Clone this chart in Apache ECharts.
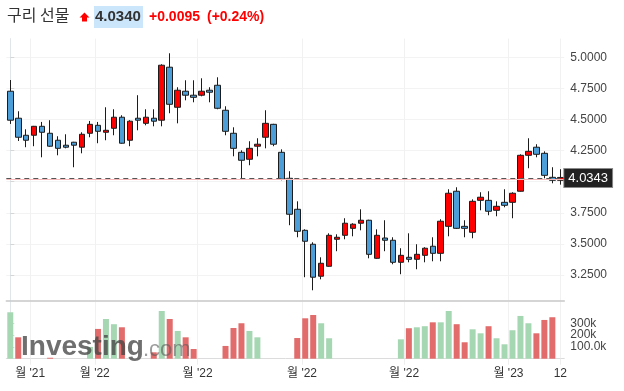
<!DOCTYPE html>
<html>
<head>
<meta charset="utf-8">
<script src="https://cdn.jsdelivr.net/npm/echarts@6/dist/echarts.min.js"></script>
<style>
  html, body { margin: 0; padding: 0; background: #fff; }
  #main { width: 624px; height: 391px; }
</style>
</head>
<body>
<div id="main"></div>
<script>
// weekly copper futures candles
const opens  = [4.727,4.510,4.373,4.373,4.445,4.389,4.333,4.293,4.317,4.277,4.389,4.453,4.397,4.429,4.518,4.333,4.510,4.469,4.510,4.494,
                4.920,4.598,4.727,4.695,4.695,4.735,4.775,4.574,4.389,4.236,4.180,4.285,4.357,4.461,4.236,4.027,3.778,3.609,3.497,3.240,
                3.320,3.537,3.569,3.625,3.666,3.690,3.384,3.547,3.529,3.352,3.392,3.376,3.408,3.481,3.424,3.641,3.923,3.641,3.593,3.850,
                3.850,3.770,3.834,3.834,3.923,4.212,4.277,4.228,4.035,4.011];
const closes = [4.494,4.357,4.333,4.445,4.397,4.285,4.268,4.277,4.293,4.381,4.461,4.405,4.413,4.518,4.309,4.486,4.494,4.518,4.486,4.936,
                4.622,4.735,4.695,4.678,4.727,4.719,4.590,4.405,4.268,4.172,4.268,4.301,4.469,4.301,4.019,3.738,3.601,3.521,3.232,3.344,
                3.569,3.553,3.666,3.658,3.690,3.416,3.569,3.529,3.352,3.408,3.376,3.416,3.465,3.424,3.682,3.907,3.625,3.625,3.842,3.875,
                3.762,3.802,3.810,3.907,4.212,4.244,4.220,4.051,4.011,4.034];
const lows   = [4.464,4.327,4.277,4.285,4.196,4.280,4.212,4.268,4.116,4.228,4.357,4.309,4.333,4.373,4.305,4.285,4.413,4.453,4.445,4.445,
                4.550,4.469,4.654,4.638,4.686,4.638,4.582,4.373,4.204,4.027,4.132,4.204,4.268,4.285,4.011,3.650,3.553,3.232,3.127,3.215,
                3.316,3.441,3.537,3.561,3.609,3.384,3.380,3.441,3.336,3.256,3.352,3.296,3.352,3.360,3.360,3.561,3.620,3.553,3.545,3.770,
                3.730,3.722,3.794,3.706,3.920,4.108,4.196,4.027,3.987,3.976];
const highs  = [4.817,4.566,4.421,4.448,4.480,4.494,4.365,4.381,4.320,4.397,4.488,4.480,4.598,4.582,4.534,4.494,4.695,4.582,4.582,4.944,
                5.032,4.759,4.815,4.815,4.831,4.759,4.839,4.606,4.437,4.252,4.325,4.349,4.574,4.465,4.260,4.084,3.842,3.617,3.513,3.392,
                3.585,3.577,3.706,3.666,3.778,3.694,3.617,3.690,3.553,3.465,3.585,3.497,3.473,3.553,3.698,3.939,3.955,3.690,3.858,3.915,
                3.923,3.842,3.939,3.915,4.220,4.349,4.301,4.244,4.116,4.100];

// volume (null = no bar shown) and its colour direction (1 = red, 0 = green)
const volumes  = [393000,181000,null,null,null,8000,null,null,null,null,100000,252000,336000,292000,266000,null,null,null,54000,404000,
                  336000,235000,181000,82000,null,null,null,108000,260000,300000,235000,181000,null,null,null,null,175000,342000,370000,300000,
                  173000,null,null,null,null,null,null,null,null,164000,258000,266000,275000,308000,308000,404000,292000,139000,249000,215000,
                  275000,173000,122000,241000,362000,300000,215000,328000,351000,null];
const volumeUp = [0,1,null,null,null,1,null,null,null,null,0,1,0,0,1,null,null,null,1,0,
                  1,0,1,1,null,null,null,1,1,1,0,0,null,null,null,null,1,1,1,0,
                  0,null,null,null,null,null,null,null,null,0,1,0,0,1,0,0,1,1,0,0,
                  1,0,0,0,0,0,1,1,1,null];

// time axis labels (positions in candle index units)
const tickPos    = [2.5, 10.6, 23.5, 36.6, 49.4, 62.5, 69.0];
const tickLabels = ["월 '21", "월 '22", "월 '22", "월 '22", "월 '22", "월 '23", "12"];

const priceTicks    = [3.25, 3.5, 3.75, 4, 4.25, 4.5, 4.75, 5];
const volTicks      = [100000, 200000, 300000];
const volTickLabels = ['100.0k', '200k', '300k'];

const lastPrice = 4.0343;
const change = 0.0095;
const prevClose = 4.0340 - change;

const categories = opens.map((_, i) => String(i));
const N = categories.length;

const chart = echarts.init(document.getElementById('main'), null, { renderer: 'canvas' });

const candleData = opens.map((o, i) => [o, closes[i], lows[i], highs[i]]);
const volData = volumes.map((v, i) => v == null ? '-' : {
  value: v,
  itemStyle: { color: volumeUp[i] ? '#e26b6b' : '#a6d7b3' }
});

const gridLeft = 6.3, gridWidth = 558;

const option = {
  animation: false,
  grid: [
    { left: gridLeft, width: gridWidth, top: 38.6, height: 262.5 },
    { left: gridLeft, width: gridWidth, top: 302, height: 56.7 }
  ],
  xAxis: [
    { type: 'category', gridIndex: 0, position: 'bottom', data: categories, boundaryGap: true,
      axisLine: { show: true, lineStyle: { color: '#c8c8c8', width: 1.5 } },
      axisTick: { show: false }, axisLabel: { show: false }, splitLine: { show: false } },
    { type: 'value', gridIndex: 0, position: 'top', min: -0.5, max: N - 0.5,
      axisLine: { show: false }, axisLabel: { show: false },
      axisTick: { show: false, customValues: tickPos },
      splitLine: { show: true, lineStyle: { color: '#f1f1f1' } } },
    { type: 'category', gridIndex: 1, position: 'bottom', data: categories, boundaryGap: true,
      axisLine: { show: true, lineStyle: { color: '#dcdcdc' } },
      axisTick: { show: false }, axisLabel: { show: false }, splitLine: { show: false } },
    { type: 'value', gridIndex: 1, position: 'bottom', min: -0.5, max: N - 0.5,
      axisLine: { show: false },
      axisTick: { show: true, customValues: tickPos, length: 6, lineStyle: { color: '#eeeeee' } },
      axisLabel: { customValues: tickPos, margin: 9, color: '#333', fontSize: 12,
        fontFamily: 'Liberation Sans, Noto Sans CJK KR, sans-serif',
        formatter: v => tickLabels[tickPos.indexOf(v)] || '' },
      splitLine: { show: true, lineStyle: { color: '#f1f1f1' } } }
  ],
  yAxis: [
    { type: 'value', gridIndex: 0, position: 'right', min: 3.04, max: 5.15,
      axisLine: { show: true, lineStyle: { color: '#e0e5ea' } },
      axisTick: { show: true, length: 4, customValues: priceTicks, lineStyle: { color: '#d6d6d6' } },
      axisLabel: { customValues: priceTicks, margin: 6, color: '#444', fontSize: 12,
        fontFamily: 'Liberation Sans, sans-serif', formatter: v => v.toFixed(4) },
      splitLine: { show: true, lineStyle: { color: '#f3f3f3' } } },
    { type: 'value', gridIndex: 1, position: 'right', min: 0, max: 480000,
      axisLine: { show: true, lineStyle: { color: '#e0e5ea' } },
      axisTick: { show: true, length: 4, customValues: volTicks, lineStyle: { color: '#d6d6d6' } },
      axisLabel: { customValues: volTicks, margin: 6, color: '#444', fontSize: 12,
        fontFamily: 'Liberation Sans, sans-serif',
        formatter: v => volTickLabels[volTicks.indexOf(v)] || '' },
      splitLine: { show: false } }
  ],
  series: [
    {
      name: '구리 선물',
      type: 'candlestick',
      xAxisIndex: 0, yAxisIndex: 0,
      data: candleData,
      barWidth: 6,
      itemStyle: {
        color: '#ff0000', color0: '#4c9ed8',
        borderColor: '#1c1c1c', borderColor0: '#1c1c1c', borderWidth: 1
      },
      markLine: {
        symbol: 'none', silent: true, animation: false,
        data: [
          { yAxis: prevClose, lineStyle: { color: '#f6b8b8', type: 'solid', width: 1 }, label: { show: false } },
          { yAxis: lastPrice, lineStyle: { color: '#555', type: [5, 4], width: 1 },
            label: { show: true, position: 'end', distance: 0, formatter: lastPrice.toFixed(4),
              color: '#fff', backgroundColor: '#222', borderColor: '#8a8a8a', borderWidth: 1,
              padding: [3, 4, 2, 4], fontSize: 13, fontFamily: 'Liberation Sans, sans-serif' } }
        ]
      }
    },
    {
      name: 'volume',
      type: 'bar',
      xAxisIndex: 2, yAxisIndex: 1,
      data: volData,
      barWidth: 6
    }
  ],
  graphic: [
    { type: 'text', x: 7, y: 15, z: 100,
      style: { text: '구리 선물', fill: '#333', verticalAlign: 'middle', font: '16px "Noto Sans CJK KR", sans-serif' } },
    { type: 'polygon', z: 100,
      shape: { points: [[84.5, 12.5], [89.5, 17.5], [87, 17.5], [87, 21.5], [82, 21.5], [82, 17.5], [79.5, 17.5]] },
      style: { fill: '#f00' } },
    { type: 'rect', z: 99, shape: { x: 94, y: 6, width: 49, height: 22 }, style: { fill: '#cbe5fa' } },
    { type: 'text', x: 95, y: 17, z: 100,
      style: { text: '4.0340', fill: '#333', verticalAlign: 'middle', font: 'bold 15px "Liberation Sans", sans-serif' } },
    { type: 'text', x: 149, y: 17, z: 100,
      style: { text: '+0.0095', fill: '#f00', verticalAlign: 'middle', font: 'bold 14px "Liberation Sans", sans-serif' } },
    { type: 'text', x: 207, y: 17, z: 100,
      style: { text: '(+0.24%)', fill: '#f00', verticalAlign: 'middle', font: 'bold 14px "Liberation Sans", sans-serif' } },
    { type: 'text', x: 21, y: 347, z: 100, silent: true,
      style: { text: 'Investing', fill: 'rgba(70,70,70,0.78)', verticalAlign: 'middle', font: 'bold 28px "Liberation Sans", sans-serif' } },
    { type: 'text', x: 143, y: 350, z: 100, silent: true,
      style: { text: '.com', fill: 'rgba(90,90,90,0.6)', verticalAlign: 'middle', font: '22px "Liberation Sans", sans-serif' } }
  ]
};

chart.setOption(option);
</script>
</body>
</html>
